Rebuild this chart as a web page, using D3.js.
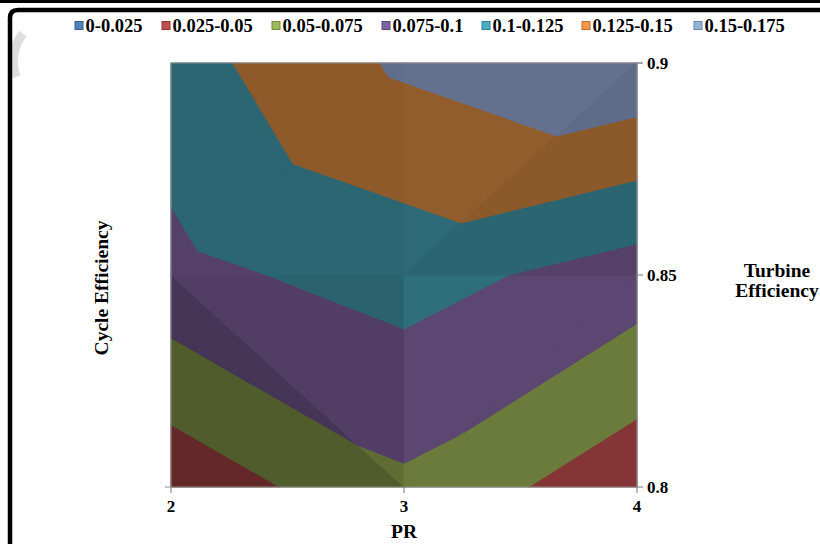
<!DOCTYPE html>
<html><head><meta charset="utf-8">
<script src="https://cdn.jsdelivr.net/npm/d3@7"></script>
<style>
body{margin:0;background:#fff}
svg{display:block}
text{font-family:"Liberation Serif","Times New Roman",serif;font-weight:bold;fill:#000}
</style>
</head><body>
<svg id="c" width="820" height="544"></svg>
<script>
// ---- data ----
const prValues = [2, 3, 4];
const turbineEff = [0.8, 0.85, 0.9];
// cycle efficiency for each turbine efficiency row, by PR
const cycleEffAt080 = [0.032, 0.0706, 0.032];
const cycleEffAt085 = [0.093, 0.110, 0.0877];
const cycleEffAt090 = [0.1145, 0.154, 0.171];
const bandLabels = ["0-0.025","0.025-0.05","0.05-0.075","0.075-0.1","0.1-0.125","0.125-0.15","0.15-0.175"];
const bandBreaks = [0, 0.025, 0.05, 0.075, 0.1, 0.125, 0.15, 0.175];
const xTickValues = [2, 3, 4];
const yTickValues = [0.8, 0.85, 0.9];

// ---- styles ----
const legendFill = ["#4F81BD","#C0504D","#9BBB59","#8064A2","#4BACC6","#F79646","#95B3D7"];
const legendStroke = ["#385D8A","#8C3836","#71893F","#5C4776","#357D91","#B66D31","#6E86A6"];
const surfaceFill = ["#3d5f8c","#853536","#6b7b3b","#5c4672","#2f6f7c","#9a622e","#687797"];

const svg = d3.select("#c");
const W = 820, H = 544;
const x = d3.scaleLinear().domain([2, 4]).range([171, 637]);
const y = d3.scaleLinear().domain([0.8, 0.9]).range([487, 63]);

// frame + faint watermark
svg.append("path").attr("d", d3.arc()({innerRadius: 44, outerRadius: 53, startAngle: -Math.PI*0.6, endAngle: -Math.PI*0.3}))
  .attr("transform","translate(62,62)").attr("fill","#dedede");
svg.append("rect").attr("x",0).attr("y",0).attr("width",W).attr("height",3).attr("fill","#000");
svg.append("path").attr("d","M10,548 V18 Q10,10 18,10 H824").attr("fill","none").attr("stroke","#000").attr("stroke-width",4.5);

// grid of values
const zRows = [cycleEffAt080, cycleEffAt085, cycleEffAt090];
const P = (i, j) => ({pr: prValues[i], te: turbineEff[j], z: zRows[j][i]});

// triangles of each cell with shading factor (Excel surface lighting)
const triangles = [];
function addCell(i, j, diag, shadeA, shadeB) {
  const BL = P(i, j), BR = P(i+1, j), TL = P(i, j+1), TR = P(i+1, j+1);
  if (diag === "TLBR") {
    triangles.push({v: [BL, BR, TL], s: shadeA});
    triangles.push({v: [TL, TR, BR], s: shadeB});
  } else {
    triangles.push({v: [BL, TL, TR], s: shadeA});
    triangles.push({v: [BL, BR, TR], s: shadeB});
  }
}
addCell(0, 0, "TLBR", 0.75, 0.89);
addCell(1, 0, "BLTR", 1.0, 1.0);
addCell(0, 1, "BLTR", 0.92, 0.92);
addCell(1, 1, "BLTR", 0.95, 0.91);

function interp(a, b, v) {
  const t = (v - a.z) / (b.z - a.z);
  return {pr: a.pr + t*(b.pr - a.pr), te: a.te + t*(b.te - a.te), z: v};
}
function clip(poly, v, above) {
  const out = [];
  const n = poly.length;
  for (let k = 0; k < n; k++) {
    const cur = poly[k], prev = poly[(k - 1 + n) % n];
    const inC = above ? cur.z >= v : cur.z <= v;
    const inP = above ? prev.z >= v : prev.z <= v;
    if (inC) { if (!inP) out.push(interp(prev, cur, v)); out.push(cur); }
    else if (inP) out.push(interp(prev, cur, v));
  }
  return out;
}
const line = d3.line().x(d => x(d.pr)).y(d => y(d.te));
function shade(c, f) {
  const r = d3.rgb(c);
  return d3.rgb(r.r*f, r.g*f, r.b*f).formatHex();
}

const gSurf = svg.append("g");
triangles.forEach(tri => {
  for (let b = 0; b < bandLabels.length; b++) {
    let poly = clip(tri.v, bandBreaks[b], true);
    if (poly.length < 3) continue;
    poly = clip(poly, bandBreaks[b+1], false);
    if (poly.length < 3) continue;
    const col = shade(surfaceFill[b], tri.s);
    gSurf.append("path").attr("d", line(poly) + "Z")
      .attr("fill", col).attr("stroke", col).attr("stroke-width", 1.1).attr("stroke-linejoin","round");
  }
});

// axes lines
const axisCol = "#8c8c8c";
const gAx = svg.append("g").attr("stroke", axisCol).attr("stroke-width", 1.2).attr("fill","none");
gAx.append("line").attr("x1", x(2)).attr("x2", x(4)+5).attr("y1", y(0.9)).attr("y2", y(0.9));
gAx.append("line").attr("x1", x(2)).attr("x2", x(2)).attr("y1", y(0.9)).attr("y2", y(0.8));
gAx.append("line").attr("x1", x(4)).attr("x2", x(4)).attr("y1", y(0.9)).attr("y2", y(0.8));
gAx.append("line").attr("x1", x(2)-6).attr("x2", x(4)).attr("y1", y(0.8)).attr("y2", y(0.8));
xTickValues.forEach(v => {
  gAx.append("line").attr("x1", x(v)).attr("x2", x(v)).attr("y1", y(0.8)).attr("y2", y(0.8)+6);
});
yTickValues.forEach(v => {
  gAx.append("line").attr("x1", x(4)).attr("x2", x(4)+6).attr("y1", y(v)).attr("y2", y(v));
});

// tick labels
xTickValues.forEach(v => {
  svg.append("text").attr("x", x(v)).attr("y", 512).attr("text-anchor","middle")
    .attr("font-size", 17).text(d3.format("d")(v));
});
yTickValues.forEach(v => {
  svg.append("text").attr("x", x(4)+10).attr("y", y(v)+6).attr("font-size", 17).text(String(v));
});

// axis titles
svg.append("text").attr("x", x(3)).attr("y", 538).attr("text-anchor","middle").attr("font-size", 19.5).text("PR");
svg.append("text").attr("transform","translate(108,288) rotate(-90)").attr("text-anchor","middle")
  .attr("font-size", 19.5).text("Cycle Efficiency");
svg.append("text").attr("x", 777).attr("y", 277).attr("text-anchor","middle").attr("font-size", 19.5).text("Turbine");
svg.append("text").attr("x", 777).attr("y", 297).attr("text-anchor","middle").attr("font-size", 19.5).text("Efficiency");

// legend
const legendX = [75, 162, 272, 382, 482, 582, 694];
const gLeg = svg.append("g");
bandLabels.forEach((lab, k) => {
  gLeg.append("rect").attr("x", legendX[k]).attr("y", 21.5).attr("width", 8).attr("height", 8)
    .attr("fill", legendFill[k]).attr("stroke", legendStroke[k]).attr("stroke-width", 1);
  gLeg.append("text").attr("x", legendX[k] + 10.5).attr("y", 32).attr("font-size", 18.5).text(lab);
});
</script>
</body></html>
